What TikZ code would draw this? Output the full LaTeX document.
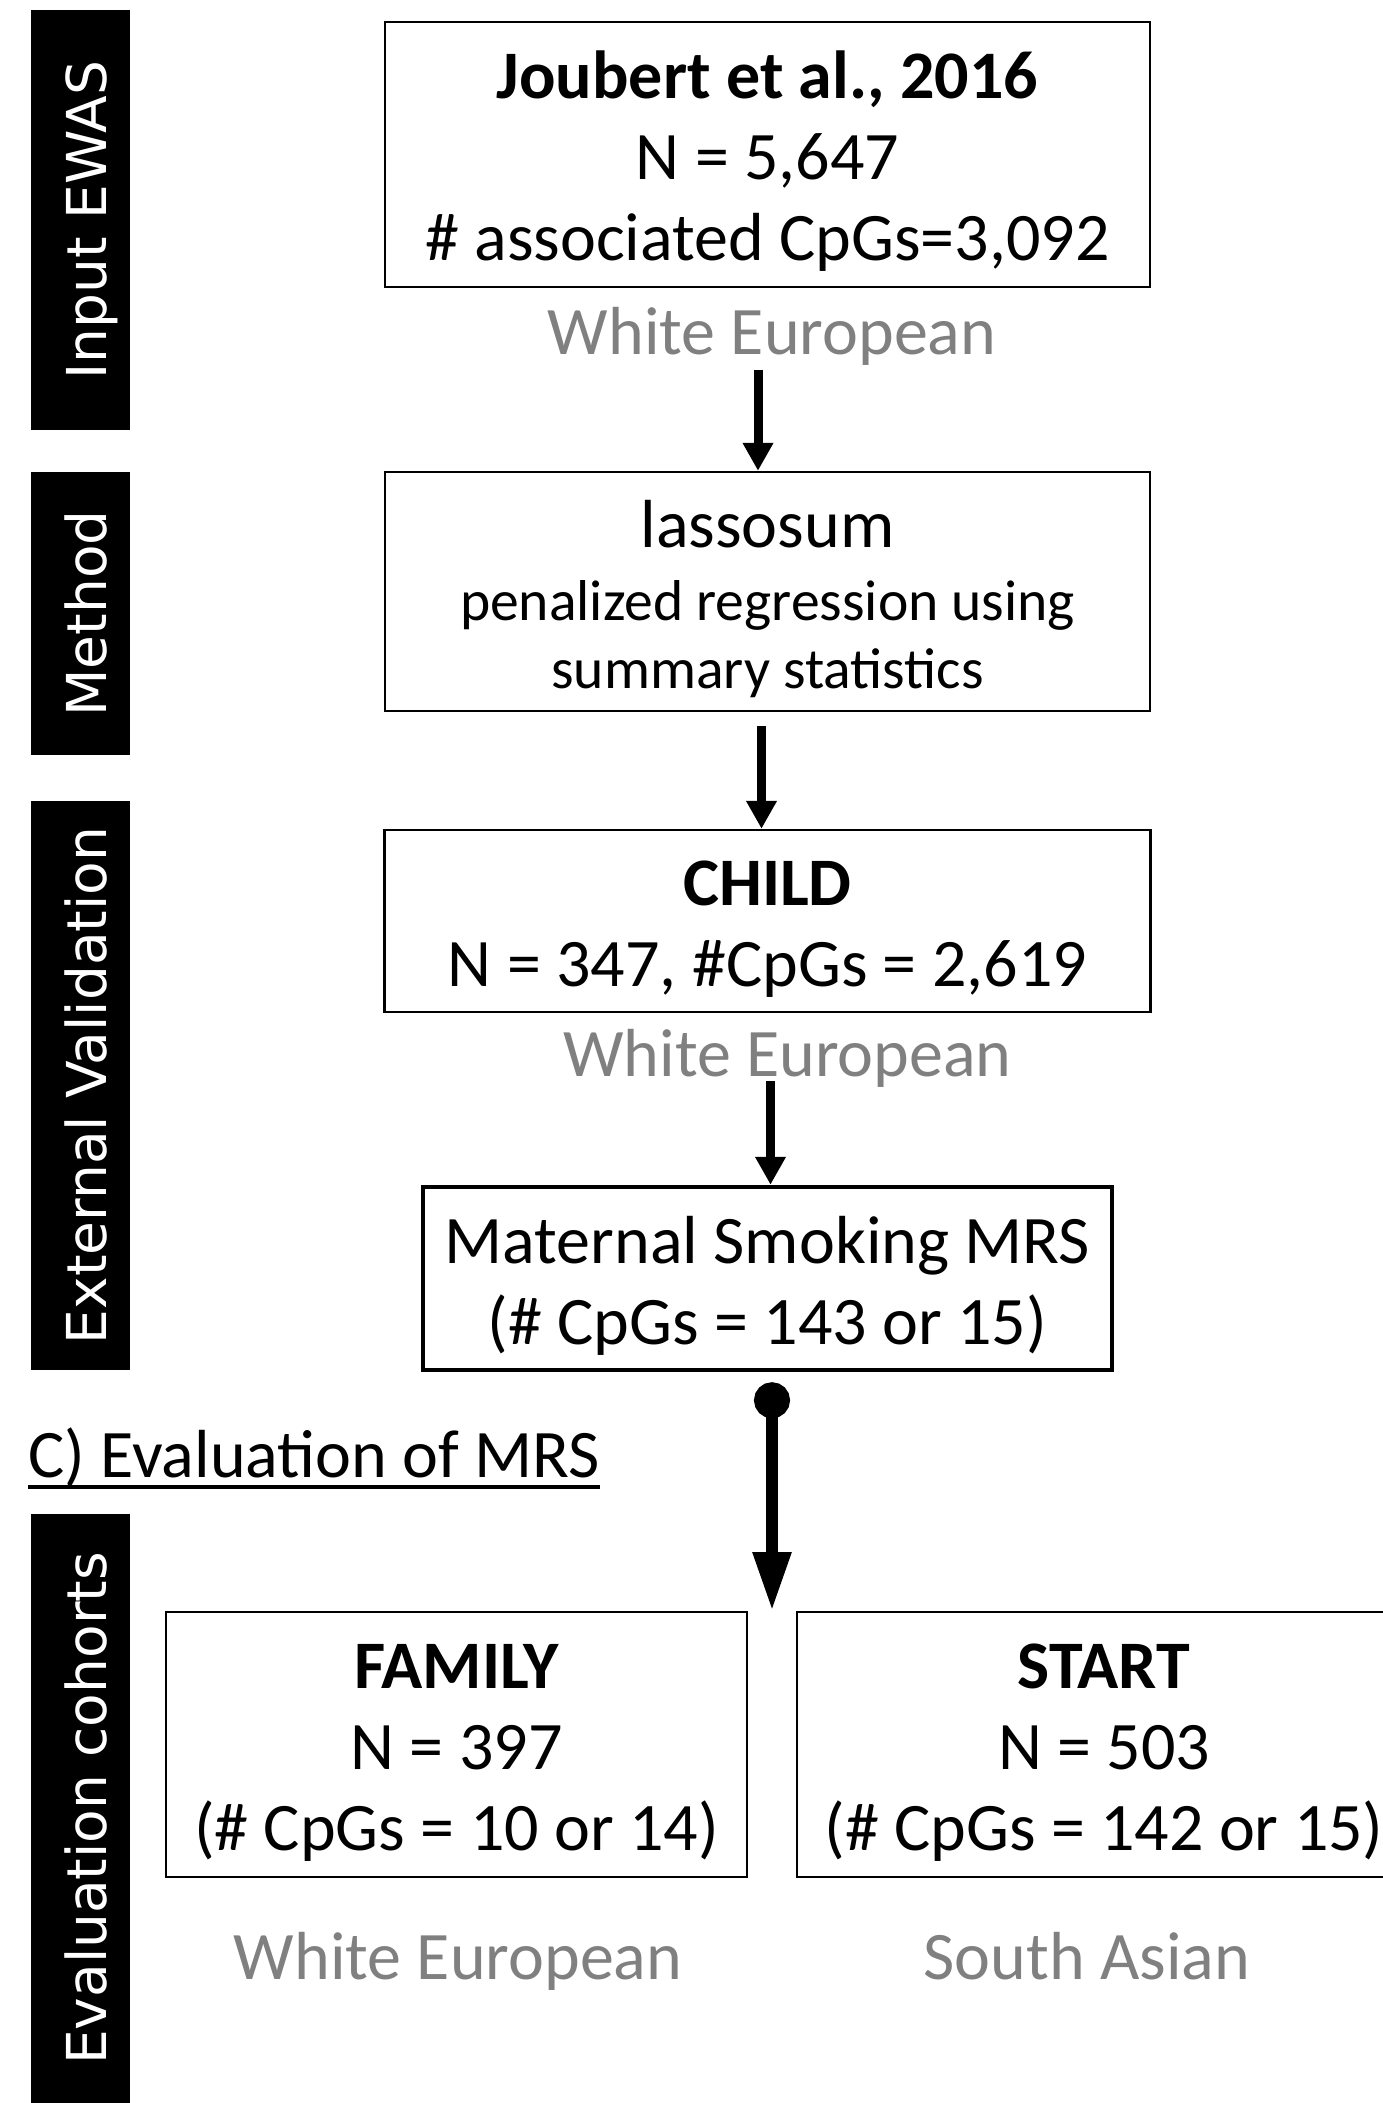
\documentclass[tikz,border=0pt]{standalone}
\usepackage{fontspec}
\setmainfont{Carlito}
\newfontfamily\barfont{DejaVu Sans}
\usetikzlibrary{arrows.meta,positioning,calc}

\definecolor{popgray}{RGB}{128,128,128}
\newcommand{\bigtxt}{\fontsize{34}{40.5}\selectfont}
\newcommand{\smalltxt}{\fontsize{28.8}{34}\selectfont}
\newcommand{\linestrut}{\rule[-0.19\baselineskip]{0pt}{\baselineskip}}

\begin{document}
\begin{tikzpicture}[>={Triangle[length=14pt,width=14.5pt]},on grid,
  box/.style={draw,line width=1.2pt,inner sep=0pt,align=center,font=\bigtxt},
  pop/.style={text=popgray,font=\bigtxt,inner sep=0pt,anchor=base},
  bar/.style={fill=black,text=white,rotate=90,inner sep=0pt,minimum height=49.5pt,
    text height=25.5pt,text depth=0pt,font=\barfont\fontsize{27.5}{33}\selectfont},
  flow/.style={->,line width=4.5pt}]

\useasboundingbox (0,0) rectangle (691pt,-1051.5pt);

% stage bars
\node[bar,minimum width=210pt]   (ewas)   at (40.25pt,-110pt)    {Input EWAS};
\node[bar,minimum width=141.5pt] (method) at (40.25pt,-306.75pt) {Method};
\node[bar,minimum width=284.5pt] (valid)  at (40.25pt,-542.75pt) {External Validation};
\node[bar,minimum width=294.5pt] (cohort) at (40.25pt,-904.25pt) {Evaluation cohorts};

% derivation
\node[box,minimum width=382.5pt,minimum height=132.5pt] (joubert) at (383.75pt,-77.25pt)
  {\linestrut\textbf{Joubert et al., 2016}\\ \linestrut N = 5,647\\ \linestrut\# associated CpGs=3,092};
\node[pop] (eur1) at ([xshift=2.25pt,yshift=-33pt]joubert.south) {White European};

\node[box,minimum width=382.5pt,minimum height=119.5pt,font=\smalltxt] (lasso) [below=218.5pt of joubert]
  {{\bigtxt\linestrut lassosum}\\ \linestrut penalized regression using\\ \linestrut summary statistics};

\node[box,minimum width=383pt,minimum height=91pt] (child) [below=164.75pt of lasso]
  {\linestrut\textbf{CHILD}\\ \linestrut N = 347, \#CpGs = 2,619};
\node[pop] (eur2) at ([xshift=10pt,yshift=-31.5pt]child.south) {White European};

\node[box,line width=2.25pt,minimum width=344.5pt,minimum height=91.5pt] (mrs) [below=178.75pt of child]
  {\linestrut Maternal Smoking MRS\\ \linestrut (\# CpGs = 143 or 15)};

% evaluation
\node[font=\bigtxt,inner sep=0pt,anchor=base west] (evalhead) at (14pt,-738.5pt) {C) Evaluation of MRS};
\draw[line width=2pt] ([yshift=-5pt]evalhead.base west) -- ([yshift=-5pt]evalhead.base east);

\node[box,line width=1pt,minimum width=290.5pt,minimum height=132.5pt] (family) at (228.25pt,-872.25pt)
  {\linestrut\textbf{FAMILY}\\ \linestrut N = 397\\ \linestrut (\# CpGs = 10 or 14)};
\node[box,line width=1pt,minimum width=307pt,minimum height=132.5pt] (start) [right=323.75pt of family]
  {\linestrut\textbf{START}\\ \linestrut N = 503\\ \linestrut (\# CpGs = 142 or 15)};
\node[pop] (eur3)  at ([xshift=0.75pt,yshift=-50.5pt]family.south) {White European};
\node[pop] (asian) at ([xshift=-8.5pt,yshift=-50.5pt]start.south) {South Asian};

\coordinate (split) at ($(family.north east)!0.5!(start.north west)$);

% arrows
\draw[flow] ([xshift=-4.75pt,yshift=-8pt]lasso.north |- eur1.base) -- ([xshift=-4.75pt]lasso.north);
\draw[flow,shorten <=7pt] ([xshift=-3pt]lasso.south) -- ([xshift=-3pt]child.north);
\draw[flow] ([xshift=1.5pt,yshift=-2.5pt]mrs.north |- eur2.base) -- ([xshift=1.5pt]mrs.north);
\draw[line width=5.8pt,{Circle[length=18pt]}-{Triangle[length=29.5pt,width=18pt]},shorten <=5pt]
  (split |- mrs.south) -- (split);
\end{tikzpicture}
\end{document}
